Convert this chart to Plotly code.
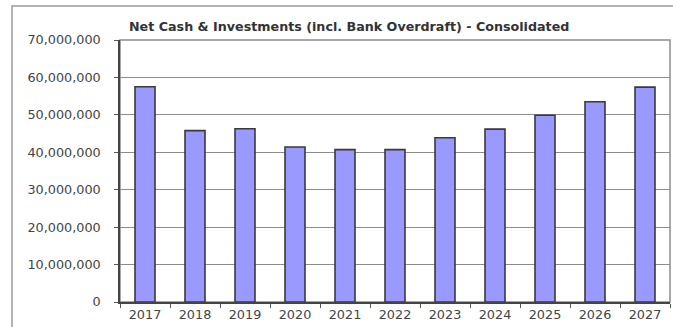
import plotly.graph_objects as go

years = ["2017", "2018", "2019", "2020", "2021", "2022", "2023", "2024", "2025", "2026", "2027"]
net_cash = [57_500_000, 45_800_000, 46_300_000, 41_400_000, 40_700_000, 40_700_000,
            43_900_000, 46_200_000, 49_900_000, 53_500_000, 57_400_000]
y_ticks = [0, 10_000_000, 20_000_000, 30_000_000, 40_000_000, 50_000_000, 60_000_000, 70_000_000]
y_tick_text = [f"{v:,}" for v in y_ticks]

W, H = 673, 327
L, R, T, B = 120, 3, 40, 25
pw, ph = W - L - R, H - T - B

def px_x(x):
    return (x - L) / pw

def px_y(y):
    return (H - B - y) / ph

fig = go.Figure(go.Bar(
    x=years, y=net_cash,
    marker=dict(color="#9999FF", line=dict(color="#3a3a3a", width=1.6)),
    width=0.4,
))

font = "DejaVu Sans, Verdana, sans-serif"
fig.update_layout(
    width=W, height=H,
    margin=dict(l=L, r=R, t=T, b=B),
    paper_bgcolor="white", plot_bgcolor="white",
    showlegend=False,
    font=dict(family=font, size=12.8, color="#444444"),
    xaxis=dict(
        type="category", showgrid=False,
        showline=True, linecolor="#444444", linewidth=1.5,
        ticks="outside", tickson="boundaries", ticklen=4, tickcolor="#555555",
        tickfont=dict(size=12.8, color="#444444"),
    ),
    yaxis=dict(
        range=[0, 70_000_000], tickvals=y_ticks, ticktext=y_tick_text,
        showgrid=True, gridcolor="#8c8c8c", gridwidth=1.4,
        showline=True, linecolor="#444444", linewidth=1.5,
        ticks="outside", ticklen=4, tickcolor="#555555",
        ticklabelstandoff=11,
        tickfont=dict(size=12.8, color="#444444"),
        zeroline=False,
    ),
    shapes=[
        # outer chart frame
        dict(type="rect", xref="paper", yref="paper",
             x0=px_x(12), x1=px_x(690), y0=px_y(340), y1=px_y(6),
             line=dict(color="#9a9a9a", width=1.5), layer="below"),
        # plot-area border (top and right sides in grey)
        dict(type="rect", xref="paper", yref="paper",
             x0=0, x1=1, y0=0, y1=1,
             line=dict(color="#8c8c8c", width=1.5), layer="below"),
    ],
    annotations=[
        dict(text="<b>Net Cash & Investments (incl. Bank Overdraft) - Consolidated</b>",
             xref="paper", yref="paper", x=px_x(127), y=px_y(26),
             xanchor="left", yanchor="middle", showarrow=False,
             font=dict(family=font, size=12.7, color="#333333")),
    ],
)

fig.write_html("out.html")
